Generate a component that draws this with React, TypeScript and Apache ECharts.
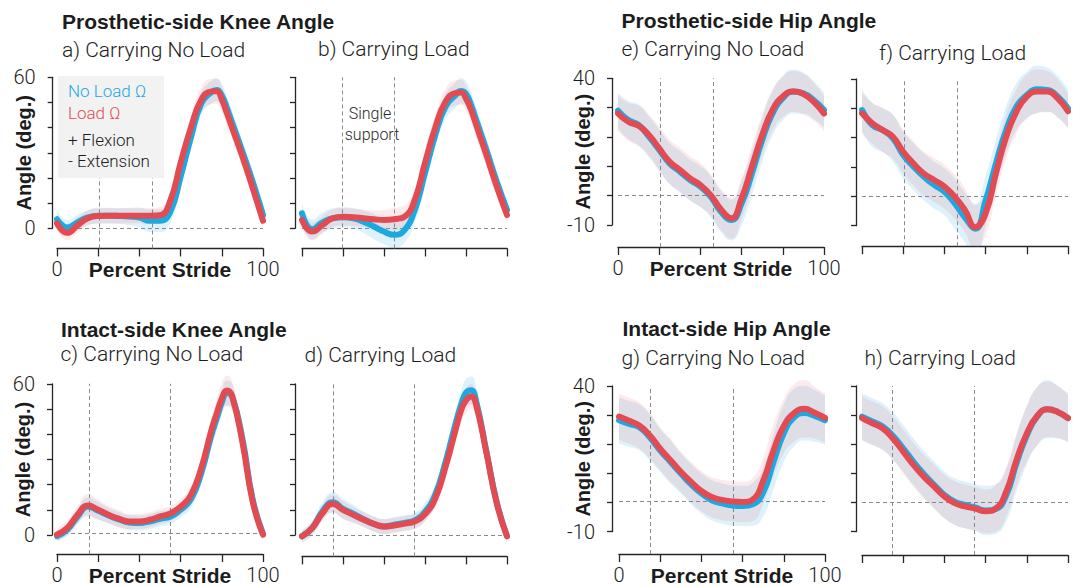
import React, { useEffect, useRef } from "react";
import * as echarts from "echarts";

// Percent stride sample positions (knee panels carry two extra samples around the swing peak)
const KNEE_STRIDE = [0, 5, 10, 15, 20, 25, 30, 35, 40, 45, 50, 55, 60, 65, 70, 75, 77.5, 80, 82.5, 85, 90, 95, 100];
const HIP_STRIDE = [0, 5, 10, 15, 20, 25, 30, 35, 40, 45, 50, 55, 60, 65, 70, 75, 80, 85, 90, 95, 100];

// a) Prosthetic-side knee, carrying no load
const aNoLoad = [3.6, 0.3, 2.4, 4.3, 5.0, 5.0, 4.9, 4.7, 4.3, 3.0, 3.0, 6.6, 20.5, 36, 49.5, 54.2, 55, 52.8, 47.8, 42, 30.5, 18.5, 5.3];
const aNoLoadSd = [3.5, 3, 3, 3, 3.2, 3.2, 3.2, 3.5, 4, 4.5, 4.5, 4.5, 4.5, 4.5, 4.5, 4.5, 4.5, 4.5, 4.5, 4.5, 4, 3.5, 3];
const aLoad = [2.0, -1.8, 1.2, 4.0, 4.9, 5.0, 5.0, 5.0, 5.0, 5.0, 5.2, 11, 26, 40, 51, 54.4, 54.5, 51.2, 45.7, 40, 28.5, 16, 3.0];
const aLoadSd = [3, 3, 3, 3, 3, 3, 3, 3, 3, 3, 3.2, 3.5, 4, 4.5, 5, 5, 5, 5, 5, 4.5, 4, 3.5, 3];
const aEvents = [20.4, 46];

// b) Prosthetic-side knee, carrying load
const bNoLoad = [6, -0.4, 2.3, 4, 4.4, 4, 2.6, 0.7, -1.3, -2.6, -0.7, 7.3, 22, 37, 48.3, 53, 54.6, 53.5, 49, 43, 31, 18.5, 7.3];
const bNoLoadSd = [4, 4, 4, 4, 4, 4, 4.5, 5, 5, 5, 5, 5, 5, 5, 5, 5, 5, 5, 5, 5, 4.5, 4, 4];
const bLoad = [3.3, -1.3, 1.3, 4, 4.6, 4.4, 4, 3.6, 3.3, 3.6, 4.6, 11.3, 26, 40, 50.3, 53.8, 54, 51.5, 47, 41, 29, 16.6, 5.3];
const bLoadSd = [3.5, 3.5, 3.5, 3.5, 3.5, 3.5, 3.5, 3.5, 4, 4.5, 4.5, 4.5, 5, 5, 5, 5, 5, 5, 5, 5, 4.5, 4, 3.5];
const bEvents = [19.8, 45];

// c) Intact-side knee, carrying no load
const cNoLoad = [-1.3, 1.3, 6.6, 10.6, 8.9, 7, 5.4, 4.2, 4, 4.6, 5.7, 6.5, 9.3, 13.5, 24, 39.5, 46, 52.5, 56.3, 55, 38, 13.5, -0.4];
const cNoLoadSd = [2, 2.5, 3, 3.5, 3.5, 3, 3, 3, 3, 3, 3, 3, 3, 3.5, 4, 4.5, 5, 5, 5, 5, 4.5, 3.5, 2.5];
const cLoad = [-0.7, 2, 7.3, 11, 9.3, 7.3, 5.7, 4.6, 4.6, 5.3, 6.6, 7.8, 10.5, 15.2, 26, 41.5, 48, 54, 57.3, 55, 36.5, 12.5, -0.7];
const cLoadSd = [2.5, 3, 3.5, 4.5, 4, 3.5, 3.5, 3, 3, 3, 3, 3, 3, 3.5, 4, 5, 5.5, 6, 6, 6, 5, 3.5, 2.5];
const cEvents = [15.5, 55.2];

// d) Intact-side knee, carrying load
const dNoLoad = [-0.5, 2.8, 9.4, 13, 10.4, 8.5, 6.3, 4.4, 3.4, 4.1, 4.8, 5.8, 9.2, 16, 29, 44.5, 51.5, 56.5, 57.5, 53, 33, 13, -0.5];
const dNoLoadSd = [2.5, 3, 3.5, 4, 4, 3.5, 3, 3, 3, 3, 3, 3, 3.5, 4, 4.5, 5, 5.5, 5.5, 5.5, 5.5, 5, 3.5, 2.5];
const dLoad = [-0.5, 2.8, 8.7, 12.4, 10, 8, 6.1, 4.4, 3.4, 3.8, 4.5, 5.4, 8.3, 14.5, 27, 42, 49.3, 53.5, 55, 51.5, 32.5, 12.6, -0.5];
const dLoadSd = [2, 2.5, 3, 3.5, 3.5, 3, 3, 3, 3, 3, 3, 3, 3, 3.5, 4, 4.5, 5, 5, 5, 5, 4.5, 3, 2];
const dEvents = [15, 54.8];

// e) Prosthetic-side hip, carrying no load
const eNoLoad = [29, 25.8, 24.1, 20.1, 15.6, 11, 8.2, 5.3, 3.1, -0.3, -5.5, -8.3, -2.6, 7.6, 19, 28, 33.2, 35.5, 34.9, 32.6, 29.2];
const eNoLoadSd = [6, 6.5, 7, 7, 7, 7, 7, 7, 7, 7, 7, 7, 7.5, 7.5, 7.5, 7.5, 7.5, 7.5, 7, 6.5, 6];
const eLoad = [28, 25.2, 23.8, 20.7, 16.1, 11.6, 8.8, 5.9, 3.6, 0.2, -4.7, -7.7, -0.9, 9.9, 20.7, 29.2, 33.8, 35.5, 34.6, 32, 28];
const eLoadSd = [6, 6.5, 7, 7, 7.5, 7.5, 7.5, 7.5, 7.5, 7, 7, 7, 7, 7, 7, 7, 7, 7, 7, 6.5, 6];
const eEvents = [20.4, 46.3];

// f) Prosthetic-side hip, carrying load
const fNoLoad = [29.4, 24.3, 22.6, 19.8, 14.1, 10.1, 6.7, 3.9, 1.6, -2.4, -7.2, -11, -1.5, 11.2, 22.6, 30.6, 34.5, 36.5, 36.3, 34, 30];
const fNoLoadSd = [7, 7.5, 7.5, 8, 8, 8, 8, 8, 8, 8.5, 8.5, 8.5, 8.5, 8, 8, 8, 8, 8, 7.5, 7, 6.5];
const fLoad = [28.3, 24.9, 22.6, 20.3, 15.2, 11.2, 7.8, 5.6, 3.3, -0.1, -4.7, -10.5, -5.8, 7.8, 20.3, 28.9, 34, 35.7, 35.7, 33.4, 29];
const fLoadSd = [7, 7, 7.5, 7.5, 7.5, 7.5, 7.5, 7.5, 7.5, 7.5, 7.5, 7.5, 7.5, 7.5, 7.5, 7.5, 7.5, 7.5, 7, 6.5, 6];
const fEvents = [20.4, 46.1];

// g) Intact-side hip, carrying no load
const gNoLoad = [28, 26.7, 25.5, 22, 17.5, 13.5, 9.5, 5.7, 2.6, 0.2, -0.9, -1.6, -1.8, -1.2, 3, 13.5, 23.5, 29, 30.5, 29.5, 28];
const gNoLoadSd = [8, 8, 8, 8, 7.5, 7.5, 7, 7, 7, 7, 7, 7, 7, 7.5, 8.5, 9.5, 10, 10, 9.5, 9, 8.5];
const gLoad = [29.3, 27.8, 26.1, 22.7, 18.1, 14.1, 10.1, 6.6, 3.4, 1.3, 0.3, -0.2, -0.4, 0.5, 7, 17.5, 26, 30.5, 32, 30.6, 28.8];
const gLoadSd = [8, 8, 8, 8, 7.5, 7.5, 7, 7, 7, 7, 7, 7, 7, 7.5, 8, 9, 9.5, 10, 10, 9, 8.5];
const gEvents = [15.4, 55.5];

// h) Intact-side hip, carrying load
const hNoLoad = [29.5, 27.8, 26.1, 22.9, 18.6, 14, 9.8, 6.1, 2.6, 0.3, -0.8, -1.7, -2.7, -2.2, 2.5, 13.5, 23, 29.5, 32, 31.1, 29];
const hNoLoadSd = [8, 8, 8, 8, 8, 8, 8, 8, 8, 8, 8, 8, 8.5, 8.5, 9, 9.5, 10, 10, 10, 9, 8.5];
const hLoad = [29, 27.2, 25.5, 22, 17.5, 12.9, 8.9, 5.5, 2.1, -0.2, -1.3, -2.1, -3.0, -2.0, 3.7, 14.6, 23.7, 29.7, 32, 31.1, 29];
const hLoadSd = [7.5, 7.5, 7.5, 7.5, 7.5, 7.5, 7.5, 7.5, 7.5, 7.5, 7.5, 7.5, 7.5, 8, 8.5, 9, 9.5, 10, 9.5, 9, 8];
const hEvents = [14.9, 54.4];

// Axis tick ranges
const KNEE_TICKS = [0, 60];
const HIP_TICKS = [-10, 40];
const STRIDE_TICKS = [0, 100];

const SERIES_NAMES = ["No Load Ω", "Load Ω"];
const FLEX_LABELS = ["+ Flexion", "- Extension"];

const BLUE = "#1da8e0";
const RED = "#e34b53";
const BLUE_BAND = "rgba(30,170,225,0.15)";
const RED_BAND = "rgba(240,80,90,0.12)";
const AXIS = "#262626";
const TEXT = "#1c1c1c";
const FONT_LIGHT = "Roboto, 'Liberation Sans', sans-serif";
const FONT_BOLD = "'Liberation Sans', Arial, sans-serif";

const PANELS = [
  { stride: KNEE_STRIDE, noLoad: aNoLoad, noLoadSd: aNoLoadSd, load: aLoad, loadSd: aLoadSd, events: aEvents, ticks: KNEE_TICKS, left: 57, right: 263, topPx: 77.3, botPx: 228.3, axisPx: 248.3, spineX: 52.7, labels: true },
  { stride: KNEE_STRIDE, noLoad: bNoLoad, noLoadSd: bNoLoadSd, load: bLoad, loadSd: bLoadSd, events: bEvents, ticks: KNEE_TICKS, left: 302, right: 507, topPx: 77.3, botPx: 228.3, axisPx: 248.3, spineX: 295, labels: false },
  { stride: KNEE_STRIDE, noLoad: cNoLoad, noLoadSd: cNoLoadSd, load: cLoad, loadSd: cLoadSd, events: cEvents, ticks: KNEE_TICKS, left: 57, right: 263, topPx: 384, botPx: 535, axisPx: 556.5, spineX: 52, labels: true },
  { stride: KNEE_STRIDE, noLoad: dNoLoad, noLoadSd: dNoLoadSd, load: dLoad, loadSd: dLoadSd, events: dEvents, ticks: KNEE_TICKS, left: 302, right: 507, topPx: 384, botPx: 535, axisPx: 556.7, spineX: 295, labels: false },
  { stride: HIP_STRIDE, noLoad: eNoLoad, noLoadSd: eNoLoadSd, load: eLoad, loadSd: eLoadSd, events: eEvents, ticks: HIP_TICKS, left: 618, right: 824, topPx: 78.3, botPx: 225, axisPx: 247, spineX: 612, labels: true },
  { stride: HIP_STRIDE, noLoad: fNoLoad, noLoadSd: fNoLoadSd, load: fLoad, loadSd: fLoadSd, events: fEvents, ticks: HIP_TICKS, left: 862, right: 1068, topPx: 79, botPx: 225.7, axisPx: 246.7, spineX: 856, labels: false },
  { stride: HIP_STRIDE, noLoad: gNoLoad, noLoadSd: gNoLoadSd, load: gLoad, loadSd: gLoadSd, events: gEvents, ticks: HIP_TICKS, left: 619, right: 825, topPx: 386, botPx: 531.7, axisPx: 556.7, spineX: 612, labels: true },
  { stride: HIP_STRIDE, noLoad: hNoLoad, noLoadSd: hNoLoadSd, load: hLoad, loadSd: hLoadSd, events: hEvents, ticks: HIP_TICKS, left: 862, right: 1068, topPx: 386, botPx: 531.7, axisPx: 555.7, spineX: 856, labels: false },
];

const HEADROOM = 6;
const HIDDEN_STEP = 0.5;

const TITLES = [
  { text: "Prosthetic-side Knee Angle", x: 62, y: 21, bold: true },
  { text: "a) Carrying No Load", x: 62, y: 49.5 },
  { text: "b) Carrying Load", x: 318, y: 49 },
  { text: "Prosthetic-side Hip Angle", x: 621.5, y: 20.5, bold: true },
  { text: "e) Carrying No Load", x: 621.5, y: 49 },
  { text: "f) Carrying Load", x: 879, y: 52.5 },
  { text: "Intact-side Knee Angle", x: 61, y: 329, bold: true },
  { text: "c) Carrying No Load", x: 60.5, y: 353.5 },
  { text: "d) Carrying Load", x: 304.5, y: 355 },
  { text: "Intact-side Hip Angle", x: 622.5, y: 328.5, bold: true },
  { text: "g) Carrying No Load", x: 621.5, y: 358 },
  { text: "h) Carrying Load", x: 864.5, y: 358 },
];

// Bands: data stored as [value, stride] so that stacking happens on the value dimension
function bandSeries(idx: number, key: string, stride: number[], mean: number[], sd: number[], color: string) {
  const lower = stride.map((x, k) => [+(mean[k] - sd[k]).toFixed(2), x]);
  const width = stride.map((x, k) => [+(2 * sd[k]).toFixed(2), x]);
  const common = {
    type: "line",
    xAxisIndex: idx,
    yAxisIndex: idx,
    stack: key,
    stackStrategy: "all",
    encode: { x: 1, y: 0 },
    smooth: true,
    symbol: "none",
    showSymbol: false,
    silent: true,
    lineStyle: { opacity: 0, width: 0 },
  };
  return [
    { ...common, data: lower },
    { ...common, data: width, areaStyle: { color, opacity: 1 } },
  ];
}

function meanSeries(idx: number, name: string, stride: number[], mean: number[], color: string, extra: any) {
  return {
    type: "line",
    name,
    xAxisIndex: idx,
    yAxisIndex: idx,
    smooth: true,
    symbol: "none",
    showSymbol: false,
    data: stride.map((x, k) => [x, mean[k]]),
    lineStyle: { color, width: 6, cap: "round", join: "round" },
    itemStyle: { color },
    ...extra,
  };
}

function buildOption() {
  const grid: any[] = [];
  const xAxis: any[] = [];
  const yAxis: any[] = [];
  const series: any[] = [];

  PANELS.forEach((p, i) => {
    const [tMin, tMax] = p.ticks;
    const ppu = (p.botPx - p.topPx) / (tMax - tMin);
    const rawMin = tMin - (p.axisPx - p.botPx) / ppu;
    const yMin = Math.round(rawMin / HIDDEN_STEP) * HIDDEN_STEP;
    const yMax = tMax + HEADROOM;
    const gTop = p.topPx - HEADROOM * ppu;
    const gBottom = p.botPx + (tMin - yMin) * ppu;
    const gi = 2 * i;

    grid.push({ left: p.left, top: gTop, width: p.right - p.left, height: gBottom - gTop });
    grid.push({ left: p.spineX, top: p.topPx, width: 1, height: p.botPx - p.topPx });

    xAxis.push({
      gridIndex: gi,
      type: "value",
      min: STRIDE_TICKS[0],
      max: STRIDE_TICKS[1],
      interval: 20,
      axisLine: { show: true, onZero: false, lineStyle: { color: AXIS, width: 1.3 } },
      axisTick: { show: true, length: 8, lineStyle: { color: AXIS, width: 1.3 } },
      axisLabel: {
        show: p.labels,
        margin: 11,
        fontSize: 20,
        fontFamily: FONT_LIGHT,
        fontWeight: 300,
        color: TEXT,
        formatter: (v: number) => (STRIDE_TICKS.includes(v) ? String(v) : ""),
      },
      splitLine: { show: false },
      name: p.labels ? "Percent Stride" : "",
      nameLocation: "middle",
      nameGap: 11,
      nameMoveOverlap: false,
      nameTextStyle: { fontSize: 21, fontWeight: "bold", fontFamily: FONT_BOLD, color: TEXT },
    });
    yAxis.push({
      gridIndex: gi,
      type: "value",
      min: yMin,
      max: yMax,
      interval: HIDDEN_STEP,
      show: false,
      axisLine: { show: false },
      axisTick: { show: false },
      axisLabel: { show: false },
      splitLine: { show: false },
    });

    xAxis.push({ gridIndex: gi + 1, type: "value", min: 0, max: 1, show: false });
    yAxis.push({
      gridIndex: gi + 1,
      type: "value",
      min: tMin,
      max: tMax,
      interval: 10,
      position: "left",
      axisLine: { show: true, onZero: false, lineStyle: { color: AXIS, width: 1.3 } },
      axisTick: { show: true, length: 5, lineStyle: { color: AXIS, width: 1.3 } },
      axisLabel: {
        show: p.labels,
        margin: 17,
        fontSize: 20,
        fontFamily: FONT_LIGHT,
        fontWeight: 300,
        color: TEXT,
        formatter: (v: number) => (v === tMin || v === tMax ? String(v) : ""),
      },
      splitLine: { show: false },
      name: p.labels ? "Angle (deg.)" : "",
      nameLocation: "middle",
      nameGap: 19,
      nameMoveOverlap: false,
      nameTextStyle: { fontSize: 20, fontWeight: "bold", fontFamily: FONT_BOLD, color: TEXT },
    });

    const markLine = {
      silent: true,
      z: 1,
      symbol: ["none", "none"],
      label: { show: false },
      lineStyle: { color: "#8a8a8a", width: 1, type: [4, 3] },
      emphasis: { disabled: true },
      data: [
        { yAxis: 0 },
        ...p.events.map((ev) => [{ coord: [ev, yMin] }, { coord: [ev, tMax] }]),
      ],
    };

    series.push(...bandSeries(gi, "nb" + i, p.stride, p.noLoad, p.noLoadSd, BLUE_BAND));
    series.push(...bandSeries(gi, "lb" + i, p.stride, p.load, p.loadSd, RED_BAND));
    series.push(meanSeries(gi, SERIES_NAMES[0], p.stride, p.noLoad, BLUE, { markLine }));
    series.push(meanSeries(gi, SERIES_NAMES[1], p.stride, p.load, RED, {}));
  });

  const graphic: any[] = [];
  TITLES.forEach((t) => {
    graphic.push({
      type: "text",
      x: t.x,
      y: t.y,
      z: 100,
      silent: true,
      style: {
        text: t.text,
        fill: TEXT,
        fontSize: 21,
        fontWeight: t.bold ? "bold" : 300,
        fontFamily: t.bold ? FONT_BOLD : FONT_LIGHT,
        align: "left",
        verticalAlign: "middle",
      },
    });
  });

  // legend box in panel a
  graphic.push({
    type: "rect",
    z: 100,
    silent: true,
    shape: { x: 58, y: 76, width: 106, height: 102 },
    style: { fill: "#f2f2f2" },
  });
  const legendItems = [
    { text: SERIES_NAMES[0], y: 90.8, fill: BLUE },
    { text: SERIES_NAMES[1], y: 112.5, fill: RED },
    { text: FLEX_LABELS[0], y: 139.5, fill: TEXT },
    { text: FLEX_LABELS[1], y: 161, fill: TEXT },
  ];
  legendItems.forEach((l) => {
    graphic.push({
      type: "text",
      x: 68,
      y: l.y,
      z: 101,
      silent: true,
      style: { text: l.text, fill: l.fill, fontSize: 17, fontWeight: 300, fontFamily: FONT_LIGHT, align: "left", verticalAlign: "middle" },
    });
  });

  // "Single support" annotation in panel b
  [
    { text: "Single", x: 370, y: 113.5 },
    { text: "support", x: 372, y: 134 },
  ].forEach((s) => {
    graphic.push({
      type: "text",
      x: s.x,
      y: s.y,
      z: 101,
      silent: true,
      style: { text: s.text, fill: "#2a2a2a", fontSize: 16, fontWeight: 300, fontFamily: FONT_LIGHT, align: "center", verticalAlign: "middle" },
    });
  });

  return {
    animation: false,
    backgroundColor: "#ffffff",
    grid,
    xAxis,
    yAxis,
    series,
    graphic,
  };
}

export default function App() {
  const ref = useRef<HTMLDivElement>(null);
  useEffect(() => {
    if (!ref.current) return;
    const chart = echarts.init(ref.current, undefined, { renderer: "svg" });
    chart.setOption(buildOption() as any);
    return () => {
      chart.dispose();
    };
  }, []);
  return (
    <div
      ref={ref}
      style={{ position: "absolute", left: 0, top: 0, width: 1078, height: 587 }}
    />
  );
}
